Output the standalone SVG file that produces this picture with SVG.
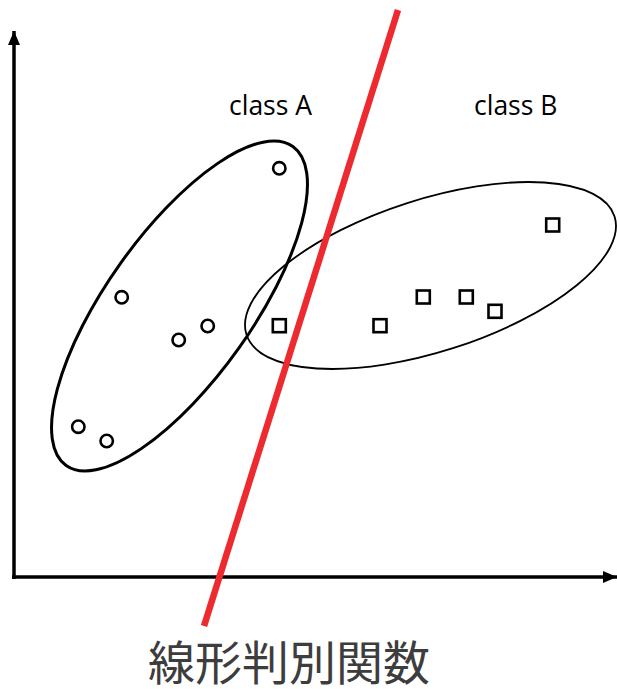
<svg xmlns="http://www.w3.org/2000/svg" width="617" height="689" viewBox="0 0 617 689">
<style>
.axis{stroke:#000;stroke-width:3.5;fill:none}
.pt{fill:none;stroke:#000;stroke-width:2.6}
.lbl{font-family:"Open Sans","Noto Sans",sans-serif;font-size:26.5px;fill:#000}
.jp{font-family:"Noto Sans CJK JP","Noto Sans",sans-serif;font-size:47px;fill:#3d3d3d}
</style>
<defs>
<marker id="arr" viewBox="0 0 14 12" refX="14" refY="6" markerWidth="14" markerHeight="12" markerUnits="userSpaceOnUse" orient="auto">
<path d="M0,0 L14,6 L0,12 Z" fill="#000"/>
</marker>
</defs>
<g id="connectors">
<line class="axis" x1="14" y1="579" x2="14" y2="31" marker-end="url(#arr)"/>
<line class="axis" x1="12" y1="577" x2="617" y2="577" marker-end="url(#arr)"/>
</g>
<g id="classA">
<ellipse cx="179.5" cy="306" rx="195.7" ry="72.8" transform="rotate(-54.6 179.5 306)" fill="none" stroke="#000" stroke-width="3"/>
<circle class="pt" cx="279.3" cy="168.3" r="6.2"/>
<circle class="pt" cx="121.7" cy="297.3" r="6.2"/>
<circle class="pt" cx="207.7" cy="326" r="6.2"/>
<circle class="pt" cx="178.7" cy="340" r="6.2"/>
<circle class="pt" cx="78.3" cy="426.7" r="6.2"/>
<circle class="pt" cx="106.7" cy="441" r="6.2"/>
<text class="lbl" x="229" y="115">class A</text>
</g>
<g id="classB">
<ellipse cx="430.5" cy="275.5" rx="193.3" ry="76.1" transform="rotate(-17.8 430.5 275.5)" fill="none" stroke="#000" stroke-width="1.8"/>
<rect class="pt" x="272.8" y="319.2" width="13" height="13"/>
<rect class="pt" x="373.5" y="319.2" width="13" height="13"/>
<rect class="pt" x="416.8" y="290.5" width="13" height="13"/>
<rect class="pt" x="459.8" y="290.5" width="13" height="13"/>
<rect class="pt" x="488.5" y="304.8" width="13" height="13"/>
<rect class="pt" x="546.2" y="218.5" width="13" height="13"/>
<text class="lbl" x="474" y="115">class B</text>
</g>
<g id="discriminant">
<line x1="398" y1="10" x2="204" y2="626" stroke="#ec2a2f" stroke-width="6.5"/>
<text class="jp" x="148" y="680">線形判別関数</text>
</g>
</svg>
